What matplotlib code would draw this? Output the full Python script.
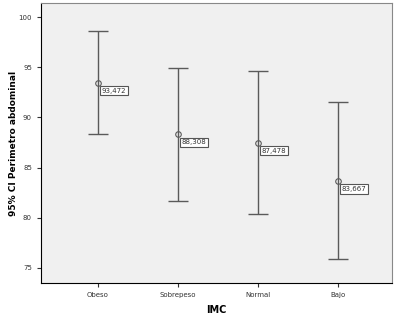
import matplotlib.pyplot as plt
import numpy as np

categorias = ['Obeso', 'Sobrepeso', 'Normal', 'Bajo']
medias = [93.472, 88.308, 87.478, 83.667]
ic_sup = [98.6, 94.9, 94.6, 91.5]
ic_inf = [88.35, 81.65, 80.35, 75.85]
etiquetas = ['93,472', '88,308', '87,478', '83,667']

fig = plt.figure(figsize=(4, 3.2), dpi=100)
ax = fig.add_axes([0.1025, 0.1156, 0.8775, 0.875])
ax.set_facecolor('#f0f0f0')

x = np.arange(len(categorias))
gris = '#5a5a5a'
ax.vlines(x, ic_inf, ic_sup, color=gris, linewidth=1)
ax.hlines(ic_sup, x - 0.125, x + 0.125, color=gris, linewidth=1)
ax.hlines(ic_inf, x - 0.125, x + 0.125, color=gris, linewidth=1)
ax.plot(x, medias, 'o', markersize=4, markerfacecolor='none',
        markeredgecolor=gris, markeredgewidth=0.8)

for xi, m, t in zip(x, medias, etiquetas):
    ax.annotate(t, (xi, m), xytext=(4, -8), textcoords='offset pixels',
                ha='left', va='center', fontsize=5, color='#333333',
                bbox=dict(boxstyle='square,pad=0.25', facecolor='white',
                          edgecolor='#555555', linewidth=0.8))

ax.set_xlim(-0.71, 3.675)
ax.set_ylim(73.5, 101.4)
ax.set_xticks(x)
ax.set_xticklabels(categorias)
ax.set_yticks([75, 80, 85, 90, 95, 100])
ax.tick_params(labelsize=5, colors='#333333', length=3, width=0.8)

for lado in ['top', 'right']:
    ax.spines[lado].set_color('#888888')
for lado in ['left', 'bottom']:
    ax.spines[lado].set_color('black')

ax.set_xlabel('IMC', fontsize=7, fontweight='bold')
ax.set_ylabel('95% CI Perimetro abdominal', fontsize=6.5, fontweight='bold')
ax.xaxis.set_label_coords(0.5, -0.08)
ax.yaxis.set_label_coords(-0.066, 0.5)

fig.savefig('out.png', dpi=100, facecolor='white')
